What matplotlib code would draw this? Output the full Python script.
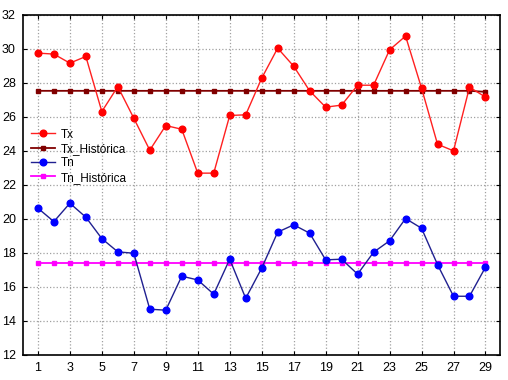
import numpy as np
import matplotlib
matplotlib.use("Agg")
from matplotlib import pyplot as plt

plt.rcParams['font.family'] = ['Liberation Sans', 'DejaVu Sans']

days = list(range(1, 30))

tx = [29.75, 29.69, 29.16, 29.55, 26.31, 27.78, 25.92, 24.04, 25.49, 25.27,
      22.69, 22.69, 26.08, 26.12, 28.27, 30.04, 28.98, 27.53, 26.57, 26.69,
      27.86, 27.86, 29.94, 30.75, 27.69, 24.39, 24.00, 27.75, 27.16]
tx_hist = [27.53] * 28 + [27.47]

tn = [20.63, 19.84, 20.92, 20.10, 18.84, 18.06, 17.98, 14.69, 14.63, 16.63,
      16.41, 15.57, 17.63, 15.33, 17.10, 19.22, 19.65, 19.16, 17.59, 17.63,
      16.75, 18.04, 18.71, 20.02, 19.45, 17.31, 15.45, 15.45, 17.16]
tn_hist = [17.41] * 29

y_ticks = list(range(12, 33, 2))
x_ticks = list(range(1, 30, 2))

fig = plt.figure(figsize=(5.08, 3.8), dpi=100)
ax = fig.add_axes([0.045, 0.066, 0.939, 0.895])

ax.plot(days, tx, color='#ff2020', lw=1, marker='o', ms=4.8,
        mfc='red', mec='red', label='Tx', zorder=4)
ax.plot(days, tx_hist, color='#800000', lw=1.3, marker='s', ms=3.2,
        mfc='#800000', mec='#800000', label='Tx_Histórica', zorder=3)
ax.plot(days, tn, color='#202090', lw=1, marker='o', ms=4.8,
        mfc='#0000ff', mec='#0000ff', label='Tn', zorder=4)
ax.plot(days, tn_hist, color='#ff00ff', lw=1.3, marker='s', ms=3.2,
        mfc='#ff00ff', mec='#ff00ff', label='Tn_Histórica', zorder=3)

ax.set_xlim(0.06, 29.9)
ax.set_ylim(12, 32)
ax.set_xticks(x_ticks)
ax.set_yticks(y_ticks)
ax.tick_params(axis='both', which='both', direction='in', length=3,
               top=True, right=True, labelsize=9, pad=5)
ax.grid(True, color='#a0a0a0', linestyle=':', linewidth=0.9)
for s in ax.spines.values():
    s.set_linewidth(1.2)

ax.legend(loc='upper left', bbox_to_anchor=(0.0, 0.69), frameon=False,
          fontsize=8.5, handlelength=2.0, handletextpad=0.5, labelspacing=0.2,
          borderaxespad=0.3)

fig.savefig('out.png', dpi=100)
